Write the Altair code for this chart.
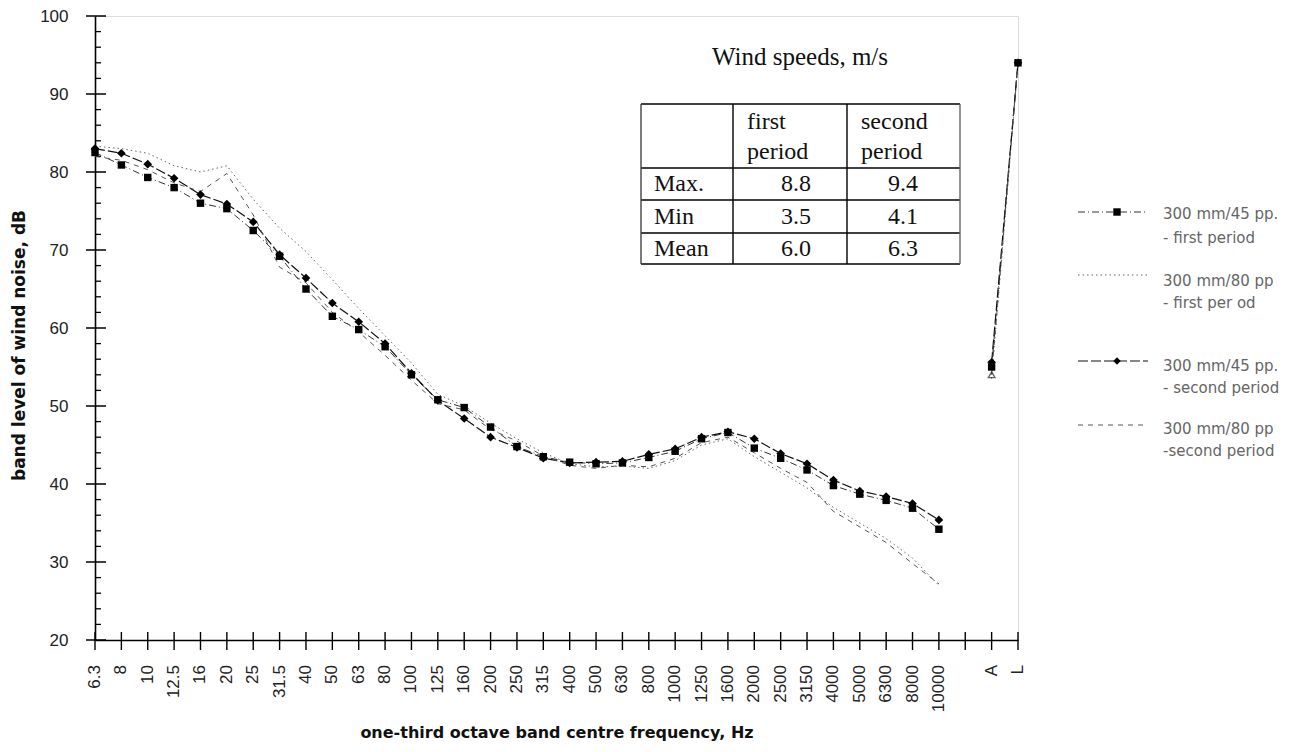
import altair as alt
import pandas as pd

# ---------------- data ----------------
categories = ["6.3", "8", "10", "12.5", "16", "20", "25", "31.5", "40", "50", "63", "80",
              "100", "125", "160", "200", "250", "315", "400", "500", "630", "800", "1000",
              "1250", "1600", "2000", "2500", "3150", "4000", "5000", "6300", "8000", "10000",
              "", "A", "L"]

series_names = ["300 mm/45 pp. - first period", "300 mm/80 pp - first period",
                "300 mm/45 pp. - second period", "300 mm/80 pp -second period"]

s45_first = [82.5, 80.9, 79.3, 78.0, 76.0, 75.3, 72.5, 69.2, 65.0, 61.5, 59.8, 57.6,
             54.0, 50.8, 49.8, 47.3, 44.8, 43.5, 42.8, 42.6, 42.7, 43.4, 44.2,
             45.8, 46.6, 44.6, 43.3, 41.8, 39.8, 38.7, 37.9, 36.9, 34.2]
s80_first = [83.3, 83.0, 82.4, 80.8, 80.0, 80.8, 76.5, 72.8, 69.8, 66.2, 62.5, 59.0,
             55.5, 51.5, 50.0, 47.8, 45.8, 44.0, 42.6, 42.2, 42.3, 42.0, 43.0,
             45.0, 45.8, 43.5, 41.5, 39.5, 37.0, 35.0, 33.0, 30.5, 27.0]
s45_second = [83.0, 82.4, 81.0, 79.2, 77.1, 75.9, 73.6, 69.4, 66.4, 63.2, 60.8, 58.0,
              54.2, 50.7, 48.4, 46.0, 44.7, 43.3, 42.7, 42.8, 42.9, 43.8, 44.5,
              46.0, 46.7, 45.8, 43.9, 42.6, 40.5, 39.1, 38.4, 37.5, 35.4]
s80_second = [82.0, 81.5, 80.3, 78.6, 77.5, 79.8, 74.5, 67.8, 65.8, 62.0, 59.5, 56.5,
              53.3, 50.3, 49.5, 47.0, 45.5, 43.6, 42.4, 42.0, 42.4, 42.2, 43.3,
              45.3, 46.0, 44.0, 42.0, 40.2, 36.5, 34.5, 32.5, 29.8, 27.2]

# overall levels: A-weighted and linear
level_A = [55.0, 53.5, 55.6, 54.0]
level_L = [94.0, 94.0, 94.0, 94.0]

table_title = "Wind speeds, m/s"
table_rows = ["Max.", "Min", "Mean"]
table_cols = [["first", "period"], ["second", "period"]]
speed_first = [8.8, 3.5, 6.0]
speed_second = [9.4, 4.1, 6.3]

legend_lines = [["300 mm/45 pp.", "- first period"], ["300 mm/80 pp", "- first per od"],
                ["300 mm/45 pp.", "- second period"], ["300 mm/80 pp", "-second period"]]

y_major = list(range(20, 101, 10))
y_minor = [v for v in range(20, 101, 2) if v % 10 != 0]

# ---------------- build tables ----------------
all_series = [s45_first, s80_first, s45_second, s80_second]
rows = []
for name, vals, a, l in zip(series_names, all_series, level_A, level_L):
    for i, v in enumerate(vals):
        rows.append({"idx": i, "series": name, "value": v, "seg": 0})
    rows.append({"idx": categories.index("A"), "series": name, "value": a, "seg": 1})
    rows.append({"idx": categories.index("L"), "series": name, "value": l, "seg": 1})
df = pd.DataFrame(rows)

W, H = 923, 624
N = len(categories) - 1
cat_df = pd.DataFrame({"idx": list(range(N + 1)), "label": categories})

xs = alt.Scale(domain=[0, N], nice=False, zero=False)
ys = alt.Scale(domain=[20, 100], nice=False, zero=False)

x_axis = alt.Axis(values=list(range(N + 1)), labels=False, ticks=False, grid=False,
                  domainColor="#000", domainWidth=1.6,
                  title="one-third octave band centre frequency,  Hz",
                  titleFont="DejaVu Sans", titleFontSize=16, titleFontWeight="bold",
                  titleColor="#111", titleX=W / 2, titleY=92, titleBaseline="middle")
y_axis = alt.Axis(values=y_major, ticks=False, grid=False, labelPadding=27,
                  labelFontSize=17, labelColor="#222", labelFont="Liberation Sans",
                  domainColor="#000", domainWidth=1.6,
                  title="band level of wind noise, dB", titleFont="DejaVu Sans",
                  titleFontSize=17, titleFontWeight="bold", titleColor="#111",
                  titleAngle=270, titleX=-76, titleY=329, titleAlign="center",
                  titleBaseline="middle")

styles = [
    {"dash": [7, 3, 1, 3], "color": "#333", "width": 1.0},
    {"dash": [1.5, 3], "color": "#666", "width": 1.0},
    {"dash": [10, 3], "color": "#111", "width": 1.2},
    {"dash": [5, 5], "color": "#555", "width": 1.0},
]

base = alt.Chart(df)
layers = []

# tick marks (crossing the axes)
ymaj_df = pd.DataFrame({"value": y_major})
ymin_df = pd.DataFrame({"value": y_minor})
layers.append(alt.Chart(ymaj_df).mark_rule(color="#000", strokeWidth=1.5).encode(
    y=alt.Y("value:Q", scale=ys, axis=y_axis), x=alt.value(-9), x2=alt.value(11)))
layers.append(alt.Chart(ymin_df).mark_rule(color="#000", strokeWidth=1.3).encode(
    y=alt.Y("value:Q", scale=ys), x=alt.value(0), x2=alt.value(6)))
layers.append(alt.Chart(cat_df).mark_rule(color="#000", strokeWidth=1.4).encode(
    x=alt.X("idx:Q", scale=xs, axis=x_axis), y=alt.value(H - 8), y2=alt.value(H + 10)))
# category labels, rotated
layers.append(alt.Chart(cat_df).mark_text(
    angle=270, align="right", baseline="middle", fontSize=17, font="Liberation Sans",
    color="#222").encode(x=alt.X("idx:Q", scale=xs), y=alt.value(H + 25), text="label:N"))

# series lines
for name, st in zip(series_names, styles):
    layers.append(base.transform_filter(alt.datum.series == name).mark_line(
        color=st["color"], strokeWidth=st["width"], strokeDash=st["dash"]).encode(
        x=alt.X("idx:Q", scale=xs), y=alt.Y("value:Q", scale=ys), detail="seg:N"))

# open marker for the 80 pp series at the A-weighted level
layers.append(base.transform_filter(
    (alt.datum.series == series_names[3]) & (alt.datum.idx == categories.index("A"))).mark_point(
    shape="triangle-up", filled=False, color="#222", size=45, strokeWidth=1.3).encode(
    x=alt.X("idx:Q", scale=xs), y=alt.Y("value:Q", scale=ys)))

# filled markers
layers.append(base.transform_filter(alt.datum.series == series_names[0]).mark_point(
    shape="square", filled=True, color="#000", size=55, opacity=1).encode(
    x=alt.X("idx:Q", scale=xs), y=alt.Y("value:Q", scale=ys)))
layers.append(base.transform_filter(alt.datum.series == series_names[2]).mark_point(
    shape="diamond", filled=True, color="#000", size=75, opacity=1).encode(
    x=alt.X("idx:Q", scale=xs), y=alt.Y("value:Q", scale=ys)))

# ---------------- wind speed table ----------------
one = pd.DataFrame({"k": [0]})
tL, c1, c2, tR = 546, 638, 752, 865
r0, r1, r2, r3, r4 = 88, 152, 184, 217, 248
serif = "Liberation Serif"
FS = 24
layers.append(alt.Chart(pd.DataFrame({"t": [table_title]})).mark_text(
    font=serif, fontSize=25, color="#111", align="center", baseline="middle").encode(
    text="t:N", x=alt.value(705), y=alt.value(41)))
for yy in [r0, r1, r2, r3, r4]:
    layers.append(alt.Chart(one).mark_rule(color="#000", strokeWidth=1.6).encode(
        x=alt.value(tL), x2=alt.value(tR), y=alt.value(yy)))
for xx, col in [(tL, "#444"), (c1, "#000"), (c2, "#000"), (tR, "#666")]:
    layers.append(alt.Chart(one).mark_rule(color=col, strokeWidth=1.4).encode(
        x=alt.value(xx), y=alt.value(r0), y2=alt.value(r4)))
for cx, words in zip([652, 766], table_cols):
    for j, w in enumerate(words):
        layers.append(alt.Chart(pd.DataFrame({"t": [w]})).mark_text(
            font=serif, fontSize=FS, color="#111", align="left", baseline="middle").encode(
            text="t:N", x=alt.value(cx), y=alt.value(106 + 30 * j)))
row_y = [(r1 + r2) / 2, (r2 + r3) / 2, (r3 + r4) / 2]
for ry, rn, a, b in zip(row_y, table_rows, speed_first, speed_second):
    layers.append(alt.Chart(pd.DataFrame({"t": [rn]})).mark_text(
        font=serif, fontSize=FS, color="#111", align="left", baseline="middle").encode(
        text="t:N", x=alt.value(559), y=alt.value(ry)))
    layers.append(alt.Chart(pd.DataFrame({"t": [f"{a:.1f}"]})).mark_text(
        font=serif, fontSize=FS, color="#111", align="center", baseline="middle").encode(
        text="t:N", x=alt.value(701), y=alt.value(ry)))
    layers.append(alt.Chart(pd.DataFrame({"t": [f"{b:.1f}"]})).mark_text(
        font=serif, fontSize=FS, color="#111", align="center", baseline="middle").encode(
        text="t:N", x=alt.value(808), y=alt.value(ry)))

# ---------------- legend ----------------
leg_sym_y = [196, 259, 345, 409]
leg_txt_y = [[198, 222], [265, 287], [350, 372], [413, 435]]
for k, (name, st) in enumerate(zip(series_names, styles)):
    ldf = pd.DataFrame({"series": [name]})
    layers.append(alt.Chart(ldf).mark_rule(color=st["color"], strokeWidth=st["width"],
                                           strokeDash=st["dash"]).encode(
        x=alt.value(983), x2=alt.value(1053), y=alt.value(leg_sym_y[k])))
    for j, line in enumerate(legend_lines[k]):
        layers.append(alt.Chart(pd.DataFrame({"t": [line]})).mark_text(
            font="DejaVu Sans", fontSize=15, color="#666", align="left",
            baseline="middle").encode(text="t:N", x=alt.value(1068), y=alt.value(leg_txt_y[k][j])))
layers.append(alt.Chart(pd.DataFrame({"series": [series_names[0]]})).mark_point(
    shape="square", filled=True, color="#000", size=55, opacity=1).encode(
    x=alt.value(1022), y=alt.value(leg_sym_y[0])))
layers.append(alt.Chart(pd.DataFrame({"series": [series_names[2]]})).mark_point(
    shape="diamond", filled=True, color="#000", size=55, opacity=1).encode(
    x=alt.value(1022), y=alt.value(leg_sym_y[2])))

chart = alt.layer(*layers).properties(
    width=W, height=H,
    autosize=alt.AutoSizeParams(type="none"),
    padding={"left": 87, "top": 8, "right": 270, "bottom": 104},
).configure_view(stroke="#000", strokeWidth=1.6).configure(background="white")

chart.save("out.html", embed_options={"renderer": "svg", "actions": False})
